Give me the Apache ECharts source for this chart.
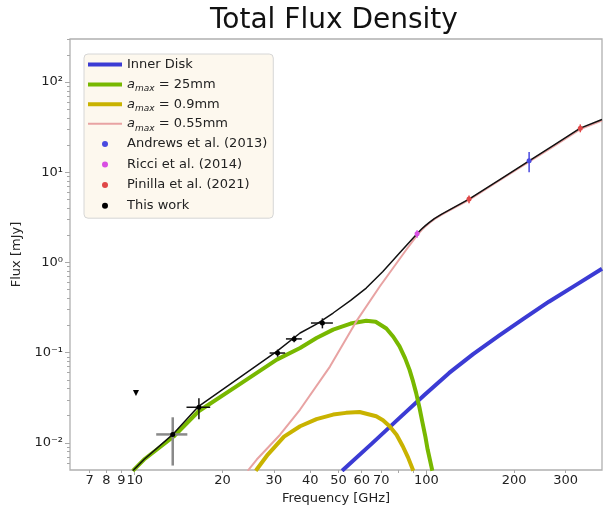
<!DOCTYPE html>
<html>
<head>
<meta charset="utf-8">
<script src="https://cdn.jsdelivr.net/npm/echarts@6/dist/echarts.min.js"></script>
<style>html,body{margin:0;padding:0;background:#fff}#chart{width:606px;height:506px}</style>
</head>
<body>
<div id="chart"></div>
<script>
// ---------- data ----------
const xTickLabels = [7, 8, 9, 10, 20, 30, 40, 50, 60, 70, 100, 200, 300];
const xMajorTicks = [10, 100];
const xMinorTicks = [7, 8, 9, 20, 30, 40, 50, 60, 70, 80, 90, 200, 300];
const yTickExponents = [-2, -1, 0, 1, 2];
const yMinorTicks = [0.006, 0.007, 0.008, 0.009, 0.02, 0.03, 0.04, 0.05, 0.06, 0.07, 0.08, 0.09,
  0.2, 0.3, 0.4, 0.5, 0.6, 0.7, 0.8, 0.9, 2, 3, 4, 5, 6, 7, 8, 9, 20, 30, 40, 50, 60, 70, 80, 90, 200, 300];

const innerDiskFreq = [51.4, 65, 80.9, 98, 119.7, 145, 177.4, 215, 263, 325, 400];
const innerDiskFlux = [0.0049, 0.0098, 0.0189, 0.0335, 0.0596, 0.097, 0.154, 0.237, 0.367, 0.56, 0.85];

const amax25Freq = [9.85, 10.76, 13.6, 16.56, 23.0, 30.7, 36.9, 42, 47.9, 55, 62.2, 67, 72.9, 77, 80.9, 84.5, 87.5, 90, 92.2, 94.7, 97.0, 99.2, 101.0, 104.8];
const amax25Flux = [0.0049, 0.00653, 0.01175, 0.0224, 0.045, 0.0837, 0.1127, 0.145, 0.180, 0.21, 0.226, 0.220, 0.185, 0.15, 0.1174, 0.087, 0.0648, 0.048, 0.0358, 0.0245, 0.01666, 0.0117, 0.00843, 0.0049];

const amax09Freq = [26.0, 28.6, 32.5, 36.9, 42, 47.9, 53, 59.0, 67.3, 71, 74.8, 79, 83.0, 86.5, 90.2];
const amax09Flux = [0.0049, 0.00742, 0.0117, 0.01527, 0.0183, 0.02057, 0.0215, 0.0220, 0.0197, 0.0178, 0.0153, 0.0123, 0.00917, 0.0069, 0.0049];

const amax055Freq = [24.4, 26.2, 31.5, 36.9, 46.7, 57.5, 69.1, 85.3, 92.9, 96.1, 99.2, 102.4, 106.5, 112.5, 121.7, 140, 177.4, 225, 273.6, 337, 400];
const amax055Flux = [0.0049, 0.00653, 0.0123, 0.0234, 0.070, 0.222, 0.538, 1.383, 2.0, 2.27, 2.51, 2.74, 3.02, 3.37, 3.88, 4.95, 8.05, 13.1, 19.5, 30.1, 37.5];

const totalFreq = [9.85, 10.76, 13.6, 16.56, 23.0, 30.7, 36.9, 42, 47.9, 55, 62.2, 70.8, 75.5, 80.9, 92.9, 96.1, 99.2, 102.4, 106.5, 112.5, 121.7, 140, 177.4, 225, 273.6, 337, 400];
const totalFlux = [0.0049, 0.00653, 0.01267, 0.0254, 0.0535, 0.1034, 0.165, 0.207, 0.275, 0.38, 0.52, 0.789, 0.99, 1.27, 2.08, 2.33, 2.56, 2.78, 3.06, 3.41, 3.92, 5.04, 8.2, 13.4, 20.0, 30.8, 38.5];

const andrewsFreq = [225];
const andrewsFlux = [13.4];
const andrewsErr = [3.4];

const ricciFreq = [92.9];
const ricciFlux = [2.08];
const ricciErr = [0.2];

const pinillaFreq = [140, 337];
const pinillaFlux = [5.04, 30.8];
const pinillaErr = [0.5, 3.1];

const thisWorkFreq = [13.5, 16.6, 30.9, 35.2, 44.0];
const thisWorkFlux = [0.0124, 0.0248, 0.099, 0.142, 0.213];
const thisWorkFluxErr = [0.0068, 0.0065, 0.009, 0.012, 0.027];
const thisWorkFreqErr = [1.65, 1.55, 1.9, 2.2, 3.8];

const upperLimitFreq = [10.1];
const upperLimitFlux = [0.0358];

// ---------- layout / style ----------
const X_MIN = 6, X_MAX = 400, Y_MIN = 0.005, Y_MAX = 300;
const lg = Math.log10;
const FONT = 'DejaVu Sans';
const TXT = '#222222';
const TICK = '#a8a8a8';
const SUP = {'-': '\u207B', '0': '\u2070', '1': '\u00B9', '2': '\u00B2', '3': '\u00B3'};

const pairs = (xs, ys) => xs.map((x, i) => [x, ys[i]]);

function errorBars(name, freq, flux, fluxErr, freqErr, styleFor) {
  return {
    type: 'custom', name: name, silent: true, z: 3,
    xAxisIndex: 0, yAxisIndex: 0,
    data: freq.map((f, i) => [f, flux[i], fluxErr[i], freqErr ? freqErr[i] : 0]),
    encode: {x: 0, y: 1},
    renderItem: function (params, api) {
      const f = api.value(0), F = api.value(1), dF = api.value(2), df = api.value(3);
      const st = styleFor(params.dataIndex);
      const kids = [];
      if (dF > 0) {
        const a = api.coord([f, F - dF]), b = api.coord([f, F + dF]);
        kids.push({type: 'line', shape: {x1: a[0], y1: a[1], x2: b[0], y2: b[1]},
          style: {stroke: st.color, lineWidth: st.width}});
      }
      if (df > 0) {
        const a = api.coord([f - df, F]), b = api.coord([f + df, F]);
        kids.push({type: 'line', shape: {x1: a[0], y1: a[1], x2: b[0], y2: b[1]},
          style: {stroke: st.color, lineWidth: st.width}});
      }
      return {type: 'group', children: kids};
    }
  };
}

function curve(name, xs, ys, color, width, z) {
  return {
    type: 'line', name: name, data: pairs(xs, ys), symbol: 'none', smooth: false,
    z: z, silent: true,
    lineStyle: {color: color, width: width, join: 'round', cap: 'butt'}, itemStyle: {color: color}
  };
}

function points(name, xs, ys, color, size, symbol, rotate) {
  return {
    type: 'scatter', name: name, data: pairs(xs, ys), symbol: symbol || 'circle',
    symbolRotate: rotate || 0, symbolSize: size, z: 5, silent: true,
    itemStyle: {color: color, opacity: 1}
  };
}

const legendLabels = {
  'amax25': '{m|a}{s|max}{t| = 25mm}',
  'amax09': '{m|a}{s|max}{t| = 0.9mm}',
  'amax055': '{m|a}{s|max}{t| = 0.55mm}'
};

const C_BLUE = '#3b3bd4', C_GREEN = '#78b800', C_YELLOW = '#c9b300', C_PINK = '#e8a3a3';
const THICK_ICON = 'path://M0 0H34V4H0Z';
const THIN_ICON = 'path://M0 0H34V2H0Z';

const hiddenAxis = {
  axisLine: {show: false, onZero: false}, axisTick: {show: false}, axisLabel: {show: false},
  splitLine: {show: false}, minorTick: {show: false}, minorSplitLine: {show: false}
};

const option = {
  animation: false,
  backgroundColor: '#ffffff',
  title: {
    text: 'Total Flux Density', left: 210, top: 7, padding: 0,
    textStyle: {fontFamily: FONT, fontSize: 28, fontWeight: 'normal', color: '#111'}
  },
  grid: {
    left: 70, right: 4, top: 39, bottom: 36, show: true,
    borderColor: '#b0b0b0', borderWidth: 1.3, backgroundColor: 'transparent',
    containLabel: false, outerBoundsMode: 'none'
  },
  legend: {
    orient: 'vertical', left: 84, top: 54, padding: [1, 6, 3, 4],
    itemGap: 1.6, itemWidth: 34, itemHeight: 6, selectedMode: false,
    backgroundColor: '#fdf8ee', borderColor: '#d6d6d6', borderWidth: 1, borderRadius: 4,
    formatter: function (name) { return legendLabels[name] || name; },
    textStyle: {
      fontFamily: FONT, fontSize: 13, color: TXT, lineHeight: 19,
      rich: {
        m: {fontFamily: FONT, fontSize: 13, fontStyle: 'italic', color: TXT, lineHeight: 15, padding: [2, 0, 2, 0]},
        s: {fontFamily: FONT, fontSize: 9, fontStyle: 'italic', color: TXT, lineHeight: 9, padding: [9, 0, 0, 0]},
        t: {fontFamily: FONT, fontSize: 13, color: TXT, lineHeight: 15, padding: [2, 0, 2, 0]}
      }
    },
    data: [
      {name: 'Inner Disk', icon: THICK_ICON},
      {name: 'amax25', icon: THICK_ICON},
      {name: 'amax09', icon: THICK_ICON},
      {name: 'amax055', icon: THIN_ICON},
      {name: 'Andrews et al. (2013)', icon: 'circle'},
      {name: 'Ricci et al. (2014)', icon: 'circle'},
      {name: 'Pinilla et al. (2021)', icon: 'circle'},
      {name: 'This work', icon: 'circle'}
    ]
  },
  xAxis: [
    Object.assign({type: 'log', logBase: 10, min: X_MIN, max: X_MAX, position: 'bottom'}, hiddenAxis),
    {type: 'value', min: lg(X_MIN), max: lg(X_MAX), position: 'bottom',
      axisLine: {show: false, onZero: false}, splitLine: {show: false},
      axisTick: {show: true, length: 5, lineStyle: {color: TICK, width: 1}, customValues: xMajorTicks.map(lg)},
      axisLabel: {show: true, customValues: xTickLabels.map(lg), hideOverlap: false,
        formatter: function (v) { return String(Math.round(Math.pow(10, v))); },
        margin: 4, color: TXT, fontSize: 13, fontFamily: FONT},
      name: 'Frequency [GHz]', nameLocation: 'middle', nameGap: 19,
      nameTextStyle: {fontFamily: FONT, fontSize: 13, color: TXT}},
    {type: 'value', min: lg(X_MIN), max: lg(X_MAX), position: 'bottom',
      axisLine: {show: false, onZero: false}, splitLine: {show: false}, axisLabel: {show: false},
      axisTick: {show: true, length: 3, lineStyle: {color: TICK, width: 1}, customValues: xMinorTicks.map(lg)}}
  ],
  yAxis: [
    Object.assign({type: 'log', logBase: 10, min: Y_MIN, max: Y_MAX, position: 'left'}, hiddenAxis),
    {type: 'value', min: lg(Y_MIN), max: lg(Y_MAX), position: 'left',
      axisLine: {show: false, onZero: false}, splitLine: {show: false},
      axisTick: {show: true, length: 5, lineStyle: {color: TICK, width: 1}, customValues: yTickExponents},
      axisLabel: {show: true, customValues: yTickExponents, hideOverlap: false,
        formatter: function (v) {
          return '10' + String(Math.round(v)).split('').map(function (c) { return SUP[c]; }).join('');
        },
        margin: 7, color: TXT, fontSize: 13, fontFamily: FONT},
      name: 'Flux [mJy]', nameLocation: 'middle', nameGap: 40,
      nameTextStyle: {fontFamily: FONT, fontSize: 13, color: TXT}},
    {type: 'value', min: lg(Y_MIN), max: lg(Y_MAX), position: 'left',
      axisLine: {show: false, onZero: false}, splitLine: {show: false}, axisLabel: {show: false},
      axisTick: {show: true, length: 3, lineStyle: {color: TICK, width: 1}, customValues: yMinorTicks.map(lg)}}
  ],
  series: [
    curve('Inner Disk', innerDiskFreq, innerDiskFlux, C_BLUE, 4, 2),
    curve('amax25', amax25Freq, amax25Flux, C_GREEN, 4, 2),
    curve('amax09', amax09Freq, amax09Flux, C_YELLOW, 4, 2),
    curve('amax055', amax055Freq, amax055Flux, C_PINK, 2, 2),
    curve('Total', totalFreq, totalFlux, '#111111', 1.5, 3),
    errorBars('errAndrews', andrewsFreq, andrewsFlux, andrewsErr, null,
      function () { return {color: '#4a4ae0', width: 1.5}; }),
    errorBars('errRicci', ricciFreq, ricciFlux, ricciErr, null,
      function () { return {color: '#d94fe3', width: 1.5}; }),
    errorBars('errPinilla', pinillaFreq, pinillaFlux, pinillaErr, null,
      function () { return {color: '#e04848', width: 1.5}; }),
    errorBars('errThisWork', thisWorkFreq, thisWorkFlux, thisWorkFluxErr, thisWorkFreqErr,
      function (i) { return i === 0 ? {color: '#8a8a8a', width: 2.5} : {color: '#111111', width: 1.5}; }),
    points('Andrews et al. (2013)', andrewsFreq, andrewsFlux, '#4a4ae0', 5),
    points('Ricci et al. (2014)', ricciFreq, ricciFlux, '#d94fe3', 5),
    points('Pinilla et al. (2021)', pinillaFreq, pinillaFlux, '#e04848', 5),
    points('This work', thisWorkFreq, thisWorkFlux, '#000000', 5),
    points('Upper limit', upperLimitFreq, upperLimitFlux, '#000000', 6, 'triangle', 180)
  ]
};

const chart = echarts.init(document.getElementById('chart'), null, {renderer: 'canvas'});
chart.setOption(option);
</script>
</body>
</html>
